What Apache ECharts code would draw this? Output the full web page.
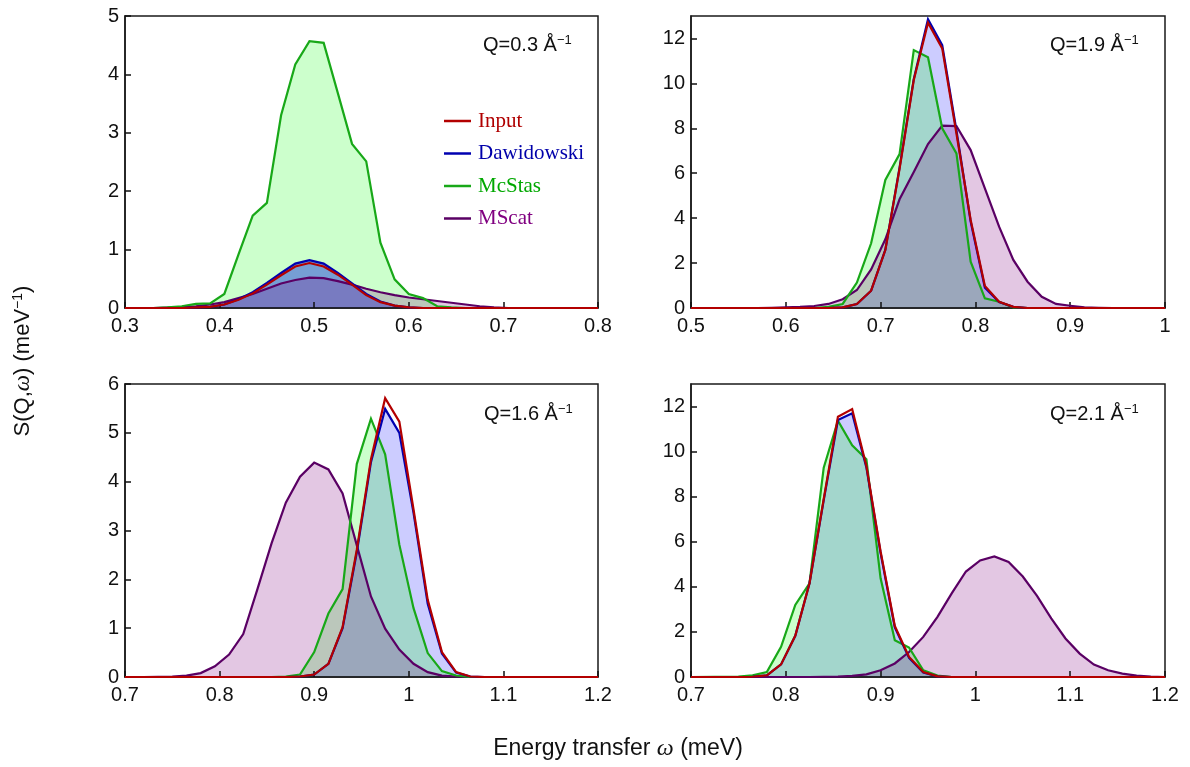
<!DOCTYPE html>
<html>
<head>
<meta charset="utf-8">
<script src="https://cdn.jsdelivr.net/npm/echarts@6/dist/echarts.min.js"></script>
<style>html,body{margin:0;padding:0;background:#fff}#c{width:1190px;height:767px}</style>
</head>
<body>
<div id="c"></div>
<script>
// ---------- DATA ----------
const seriesNames = ['Input', 'Dawidowski', 'McStas', 'MScat'];
const qLabels = ['0.3', '1.9', '1.6', '2.1'];

// Panel 1 (Q = 0.3)
const x1 = [0.300,0.330,0.345,0.360,0.375,0.390,0.405,0.420,0.435,0.450,0.465,0.480,0.495,0.510,0.525,0.540,0.555,0.570,0.585,0.600,0.615,0.630,0.645,0.660,0.675,0.690,0.705,0.720,0.800];
const input1  = [0,0,0,0,0.01,0.02,0.06,0.14,0.25,0.40,0.56,0.71,0.77,0.71,0.57,0.40,0.22,0.10,0.04,0.01,0,0,0,0,0,0,0,0,0];
const daw1    = [0,0,0,0,0.01,0.02,0.06,0.15,0.27,0.43,0.60,0.76,0.82,0.76,0.60,0.42,0.24,0.11,0.04,0.01,0,0,0,0,0,0,0,0,0];
const mcstas1 = [0,0,0.01,0.03,0.07,0.08,0.24,0.92,1.58,1.80,3.30,4.17,4.57,4.54,3.68,2.81,2.51,1.12,0.49,0.24,0.17,0.03,0.01,0,0,0,0,0,0];
const mscat1  = [0,0,0.005,0.01,0.03,0.06,0.10,0.17,0.24,0.33,0.42,0.48,0.52,0.51,0.46,0.40,0.33,0.27,0.22,0.18,0.15,0.12,0.09,0.06,0.03,0.01,0,0,0];

// Panel 2 (Q = 1.9)
const x2 = [0.500,0.570,0.585,0.600,0.615,0.630,0.645,0.660,0.675,0.690,0.705,0.720,0.735,0.750,0.765,0.780,0.795,0.810,0.825,0.840,0.855,0.870,0.885,0.900,0.915,0.930,0.945,1.000];
const input2  = [0,0,0,0,0,0,0,0.03,0.18,0.77,2.58,6.2,10.15,12.7,11.56,7.77,3.92,0.98,0.28,0.05,0,0,0,0,0,0,0,0];
const daw2    = [0,0,0,0,0,0,0,0.03,0.18,0.77,2.6,6.25,10.2,12.85,11.7,7.9,3.85,0.9,0.26,0.05,0,0,0,0,0,0,0,0];
const mcstas2 = [0,0,0,0,0,0,0.05,0.18,1.13,2.88,5.7,6.85,11.48,11.16,8.0,6.88,2.06,0.43,0.28,0.03,0,0,0,0,0,0,0,0];
const mscat2  = [0,0,0.01,0.03,0.05,0.09,0.18,0.39,0.8,1.72,3.06,4.84,6.05,7.3,8.12,8.1,7.03,5.33,3.62,2.14,1.17,0.5,0.18,0.1,0.03,0.01,0,0];

// Panel 3 (Q = 1.6)
const x3 = [0.700,0.720,0.735,0.750,0.765,0.780,0.795,0.810,0.825,0.840,0.855,0.870,0.885,0.900,0.915,0.930,0.945,0.960,0.975,0.990,1.005,1.020,1.035,1.050,1.065,1.080,1.200];
const input3  = [0,0,0,0,0,0,0,0,0,0,0,0,0.01,0.05,0.27,1.02,2.6,4.46,5.71,5.23,3.43,1.58,0.51,0.1,0.01,0,0];
const daw3    = [0,0,0,0,0,0,0,0,0,0,0,0,0.01,0.05,0.27,1.0,2.55,4.4,5.49,5.0,3.36,1.5,0.48,0.09,0.01,0,0];
const mcstas3 = [0,0,0,0,0,0,0,0,0,0,0,0.01,0.05,0.51,1.3,1.8,4.36,5.29,4.56,2.71,1.41,0.49,0.12,0.03,0,0,0];
const mscat3  = [0,0,0.005,0.01,0.03,0.08,0.22,0.46,0.88,1.8,2.74,3.57,4.1,4.39,4.25,3.76,2.7,1.65,0.99,0.56,0.27,0.1,0.03,0.01,0,0,0];

// Panel 4 (Q = 2.1)
const x4 = [0.700,0.750,0.765,0.780,0.795,0.810,0.825,0.840,0.855,0.870,0.885,0.900,0.915,0.930,0.945,0.960,0.975,0.990,1.005,1.020,1.035,1.050,1.065,1.080,1.095,1.110,1.125,1.140,1.155,1.170,1.185,1.200];
const input4  = [0,0,0.01,0.07,0.56,1.83,4.16,7.9,11.55,11.89,9.36,5.57,2.26,0.89,0.22,0.03,0,0,0,0,0,0,0,0,0,0,0,0,0,0,0,0];
const daw4    = [0,0,0.01,0.07,0.56,1.83,4.16,7.85,11.4,11.7,9.3,5.5,2.2,0.85,0.2,0.03,0,0,0,0,0,0,0,0,0,0,0,0,0,0,0,0];
const mcstas4 = [0,0.02,0.07,0.22,1.34,3.2,4.16,9.29,11.37,10.28,9.66,4.38,1.63,1.31,0.3,0.06,0,0,0,0,0,0,0,0,0,0,0,0,0,0,0,0];
const mscat4  = [0,0,0,0,0,0,0,0.01,0.02,0.05,0.12,0.3,0.6,1.11,1.78,2.67,3.71,4.68,5.17,5.35,5.1,4.46,3.6,2.6,1.71,1.04,0.55,0.3,0.15,0.06,0.02,0];

// Axis ranges / ticks
const xRanges = [[0.3, 0.8], [0.5, 1.0], [0.7, 1.2], [0.7, 1.2]];
const yRanges = [[0, 5, 1], [0, 13, 2], [0, 6, 1], [0, 13, 2]];

// ---------- STYLE ----------
const lineColors = {Input: '#b30000', Dawidowski: '#0000b0', McStas: '#18a818', MScat: '#5a0064'};
const legendText = {Input: '#b00000', Dawidowski: '#0000aa', McStas: '#00a800', MScat: '#800080'};
const fillColors = {
  Dawidowski: 'rgba(0,0,255,0.2)',
  McStas: 'rgba(0,255,0,0.2)',
  MScat: 'rgba(128,0,128,0.22)'
};
const dawFillPanel1 = 'rgba(0,25,225,0.42)';
const fillOrder = [
  ['McStas', 'Dawidowski', 'MScat'],
  ['Dawidowski', 'McStas', 'MScat'],
  ['Dawidowski', 'McStas', 'MScat'],
  ['Dawidowski', 'McStas', 'MScat']
];
const grids = [
  {left: 125, top: 16, width: 473, height: 292},
  {left: 691, top: 16, width: 474, height: 292},
  {left: 125, top: 384, width: 473, height: 293},
  {left: 691, top: 384, width: 474, height: 293}
];
const qPos = [[483, 34], [1050, 34], [484, 403], [1050, 403]];

const panelData = [
  {x: x1, y: {Input: input1, Dawidowski: daw1, McStas: mcstas1, MScat: mscat1}},
  {x: x2, y: {Input: input2, Dawidowski: daw2, McStas: mcstas2, MScat: mscat2}},
  {x: x3, y: {Input: input3, Dawidowski: daw3, McStas: mcstas3, MScat: mscat3}},
  {x: x4, y: {Input: input4, Dawidowski: daw4, McStas: mcstas4, MScat: mscat4}}
];

const tickFont = {fontFamily: 'Liberation Sans', fontSize: 20, color: '#111'};

const xAxes = [], yAxes = [], series = [], titles = [];
grids.forEach((g, i) => {
  g.show = true; g.borderColor = '#1a1a1a'; g.borderWidth = 1.5; g.containLabel = false;
  xAxes.push({
    type: 'value', gridIndex: i, min: xRanges[i][0], max: xRanges[i][1], interval: 0.1, z: 2,
    axisLine: {show: true, onZero: false, lineStyle: {color: '#1a1a1a', width: 1.5}},
    axisTick: {show: true, inside: true, length: 6, lineStyle: {color: '#111', width: 1.5}},
    axisLabel: Object.assign({margin: 8, showMinLabel: true, showMaxLabel: true}, tickFont),
    splitLine: {show: false}
  });
  yAxes.push({
    type: 'value', gridIndex: i, min: yRanges[i][0], max: yRanges[i][1], interval: yRanges[i][2], z: 2,
    axisLine: {show: true, lineStyle: {color: '#1a1a1a', width: 1.5}},
    axisTick: {show: true, inside: true, length: 6, lineStyle: {color: '#111', width: 1.5}},
    axisLabel: Object.assign({margin: 6, showMaxLabel: yRanges[i][1] % yRanges[i][2] === 0}, tickFont),
    splitLine: {show: false}
  });
  titles.push({
    text: '{n|Q=' + qLabels[i] + ' Å}{s|−1}',
    left: qPos[i][0], top: qPos[i][1], padding: 0,
    textStyle: {
      fontWeight: 'normal',
      rich: {
        n: {fontFamily: 'Liberation Sans', fontWeight: 'normal', fontSize: 20, color: '#111', lineHeight: 22},
        s: {fontFamily: 'Liberation Sans', fontWeight: 'normal', fontSize: 13, color: '#111', verticalAlign: 'top', lineHeight: 14}
      }
    }
  });
  const pd = panelData[i];
  // area fills (below all lines)
  fillOrder[i].forEach(name => {
    const fc = (i === 0 && name === 'Dawidowski') ? dawFillPanel1 : fillColors[name];
    series.push({
      name: name, type: 'line', xAxisIndex: i, yAxisIndex: i, z: 1,
      data: pd.x.map((xv, k) => [xv, pd.y[name][k]]),
      showSymbol: false, symbol: 'none', silent: true,
      itemStyle: {color: lineColors[name]},
      lineStyle: {width: 0, opacity: 0},
      areaStyle: {color: fc, opacity: 1}
    });
  });
  // lines
  ['MScat', 'McStas', 'Dawidowski', 'Input'].forEach(name => {
    series.push({
      name: name, type: 'line', xAxisIndex: i, yAxisIndex: i, z: 3,
      data: pd.x.map((xv, k) => [xv, pd.y[name][k]]),
      showSymbol: false, symbol: 'none',
      itemStyle: {color: lineColors[name]},
      lineStyle: {width: 2.2, color: lineColors[name], join: 'miter'}
    });
  });
});

const chart = echarts.init(document.getElementById('c'), null, {renderer: 'canvas'});
chart.setOption({
  animation: false,
  backgroundColor: '#fff',
  title: titles,
  legend: {
    orient: 'vertical', left: 439, top: 105, icon: 'rect', itemWidth: 27, itemHeight: 2.5, itemGap: 10.5,
    selectedMode: false,
    textStyle: {fontFamily: 'Liberation Serif', fontSize: 21, lineHeight: 22, padding: [0, 0, 0, 2]},
    data: seriesNames.map(n => ({name: n, itemStyle: {color: lineColors[n]}, textStyle: {color: legendText[n]}}))
  },
  grid: grids,
  xAxis: xAxes,
  yAxis: yAxes,
  series: series,
  graphic: [
    {
      type: 'text', x: 23, y: 361, rotation: Math.PI / 2,
      style: {
        text: '{n|S(Q,}{i|ω}{n|) (meV}{s|−1}{n|)}',
        align: 'center', verticalAlign: 'middle',
        rich: {
          n: {fontFamily: 'Liberation Sans', fontSize: 22, fill: '#111', lineHeight: 24},
          i: {fontFamily: 'Liberation Serif', fontStyle: 'italic', fontSize: 23, fill: '#111', lineHeight: 24},
          s: {fontFamily: 'Liberation Sans', fontSize: 14, fill: '#111', verticalAlign: 'top', lineHeight: 16}
        }
      }
    },
    {
      type: 'text', x: 618, y: 749,
      style: {
        text: '{n|Energy transfer }{i|ω}{n| (meV)}',
        align: 'center', verticalAlign: 'middle',
        rich: {
          n: {fontFamily: 'Liberation Sans', fontSize: 23, fill: '#111'},
          i: {fontFamily: 'Liberation Serif', fontStyle: 'italic', fontSize: 24, fill: '#111'}
        }
      }
    }
  ]
});
</script>
</body>
</html>
